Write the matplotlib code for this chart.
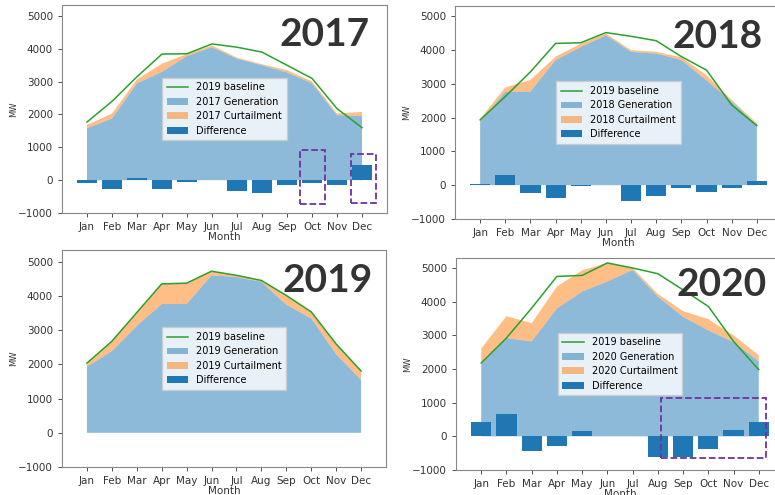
import matplotlib
matplotlib.use("Agg")
import matplotlib.pyplot as plt
from matplotlib.patches import Rectangle
import numpy as np

months = ["Jan", "Feb", "Mar", "Apr", "May", "Jun",
          "Jul", "Aug", "Sep", "Oct", "Nov", "Dec"]

base_2017 = [1770, 2400, 3150, 3840, 3850, 4150, 4050, 3900, 3500, 3100, 2180, 1600]
gen_2017 = [1580, 1880, 2950, 3300, 3780, 4050, 3700, 3500, 3280, 2950, 1980, 1950]
curt_2017 = [100, 150, 120, 250, 60, 50, 30, 30, 70, 60, 50, 130]
diff_2017 = [-100, -270, 80, -280, -50, 0, -330, -390, -160, -100, -150, 460]

base_2018 = [1930, 2620, 3350, 4190, 4210, 4510, 4400, 4270, 3800, 3400, 2370, 1760]
gen_2018 = [1880, 2760, 2770, 3700, 4080, 4430, 3940, 3890, 3700, 3100, 2470, 1780]
curt_2018 = [80, 130, 340, 100, 100, 50, 50, 50, 80, 150, 50, 50]
diff_2018 = [20, 290, -220, -370, -10, 0, -460, -330, -90, -200, -80, 110]

base_2019 = [2040, 2680, 3520, 4360, 4380, 4730, 4610, 4460, 4020, 3540, 2600, 1810]
gen_2019 = [1940, 2390, 3130, 3770, 3770, 4610, 4560, 4420, 3750, 3350, 2300, 1550]
curt_2019 = [100, 290, 390, 590, 610, 120, 50, 40, 270, 190, 300, 260]
diff_2019 = [0] * 12

base_2020 = [2180, 2920, 3810, 4750, 4780, 5150, 5000, 4830, 4350, 3860, 2820, 1980]
gen_2020 = [2150, 2920, 2820, 3800, 4300, 4600, 4940, 4150, 3550, 3150, 2800, 2230]
curt_2020 = [460, 650, 540, 650, 630, 550, 60, 80, 170, 330, 200, 180]
diff_2020 = [430, 650, -450, -290, 150, 0, 0, -600, -620, -380, 180, 430]

W, H = 775, 495
fig = plt.figure(figsize=(W / 100, H / 100), dpi=100)


def px_axes(left, top, right, bottom):
    return fig.add_axes([left / W, 1 - bottom / H, (right - left) / W, (bottom - top) / H])


def draw_panel(ax, year, base, gen, curt, diff, ytop):
    x = np.arange(len(months))
    line, = ax.plot(x, base, color="tab:green", lw=1.1)
    polys = ax.stackplot(x, gen, curt, colors=["tab:blue", "tab:orange"], alpha=0.5)
    bars = ax.bar(x, diff, width=0.8, color="tab:blue")
    ax.set_xlim(-1, 12)
    ax.set_ylim(-1000, ytop)
    ax.set_yticks(range(-1000, 5001, 1000))
    ax.set_xticks(x)
    ax.set_xticklabels(months)
    ax.tick_params(labelsize=7.5, colors="#333333", length=3, width=0.6)
    ax.set_xlabel("Month", fontsize=7.5, color="#333333", labelpad=0)
    ax.set_ylabel("MW", fontsize=6, color="#333333", labelpad=0)
    for s in ax.spines.values():
        s.set_color("#888888")
        s.set_linewidth(0.8)
    ax.legend([line, polys[0], polys[1], bars],
              ["2019 baseline", f"{year} Generation", f"{year} Curtailment", "Difference"],
              loc="center", fontsize=7, handlelength=2.2, labelspacing=0.45,
              borderpad=0.5, fancybox=False, edgecolor="#cccccc")


ax1 = px_axes(62, 5, 387, 213)
draw_panel(ax1, 2017, base_2017, gen_2017, curt_2017, diff_2017, 5335)
ax2 = px_axes(455, 6, 782, 219)
draw_panel(ax2, 2018, base_2018, gen_2018, curt_2018, diff_2018, 5296)
ax3 = px_axes(62, 250, 386, 467)
draw_panel(ax3, 2019, base_2019, gen_2019, curt_2019, diff_2019, 5351)
ax4 = px_axes(456, 258, 784, 470)
draw_panel(ax4, 2020, base_2020, gen_2020, curt_2020, diff_2020, 5297)

# dashed highlight boxes
purple = "#7030A0"
ax1.add_patch(Rectangle((8.5, -720), 1.0, 1650, fill=False, ec=purple, ls="--", lw=1.3, clip_on=False))
ax1.add_patch(Rectangle((10.55, -700), 1.0, 1500, fill=False, ec=purple, ls="--", lw=1.3, clip_on=False))
ax4.add_patch(Rectangle((7.13, -630), 4.14, 1780, fill=False, ec=purple, ls="--", lw=1.3, clip_on=False))

# big year labels
for label, cx, cy in [("2017", 325, 35), ("2018", 718, 36), ("2019", 328, 281), ("2020", 722, 284)]:
    fig.text(cx / W, 1 - cy / H, label, ha="center", va="center",
             fontsize=28, fontweight="bold", family="Lato", color="#333333")

fig.savefig("out.png", dpi=100)
